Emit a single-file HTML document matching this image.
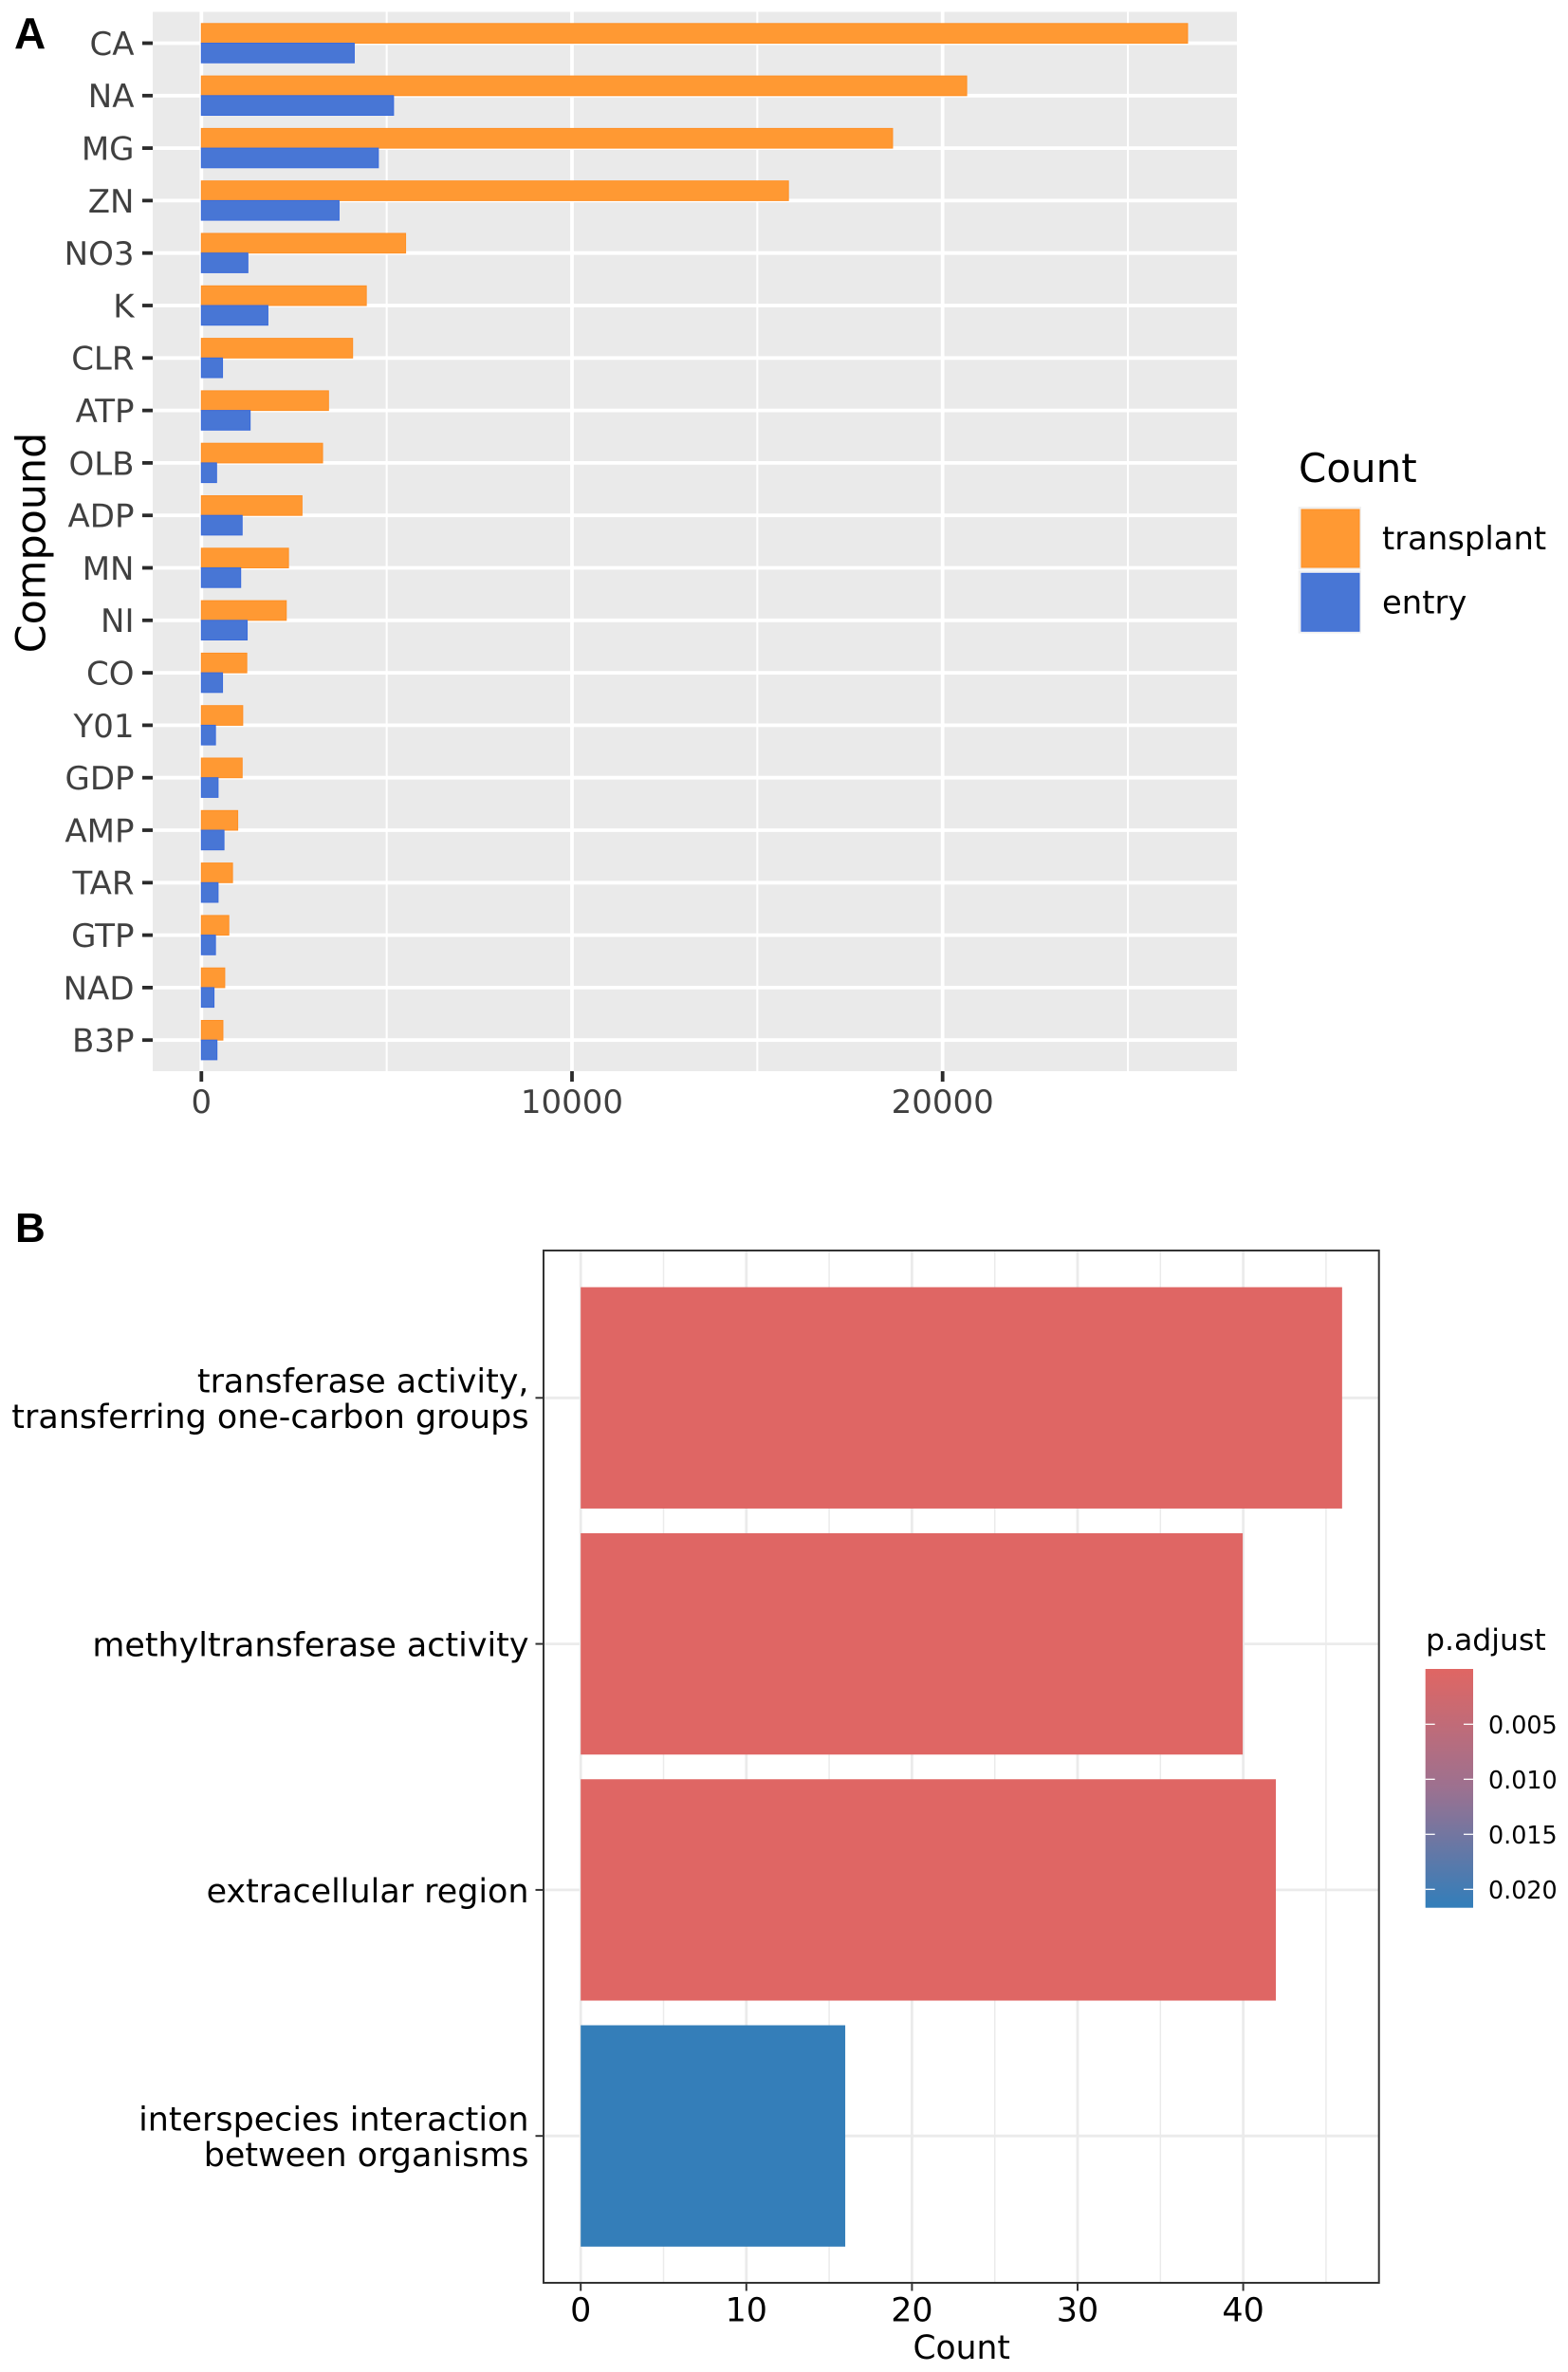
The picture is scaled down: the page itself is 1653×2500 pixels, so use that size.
<!DOCTYPE html>
<html lang="en">
<head>
<meta charset="utf-8">
<title>Compound counts and enrichment chart</title>
<style>
html,body{margin:0;padding:0;background:#fff;}
svg{display:block;font-family:"DejaVu Sans","Liberation Sans",sans-serif;}
</style>
</head>
<body>
<svg id="figure" xmlns="http://www.w3.org/2000/svg" width="1653" height="2500" viewBox="0 0 1653 2500">
  <defs>
    <linearGradient id="pGrad" x1="0" y1="0" x2="0" y2="1">
      <stop offset="0" stop-color="#e06663"/>
      <stop offset="0.5" stop-color="#9c7190"/>
      <stop offset="1" stop-color="#327eba"/>
    </linearGradient>
  </defs>
  <rect width="1653" height="2500" fill="#ffffff"/>
  <text x="15" y="51" font-family="'Liberation Sans',sans-serif" font-weight="700" font-size="46" fill="#000">A</text>
  <text x="16" y="1309" font-family="'Liberation Sans',sans-serif" font-weight="700" font-size="44" fill="#000">B</text>
  <g id="panelA"></g>
  <g id="panelB"></g>
</svg>
<script>
// Panel A data
const compounds = ["CA","NA","MG","ZN","NO3","K","CLR","ATP","OLB","ADP","MN","NI","CO","Y01","GDP","AMP","TAR","GTP","NAD","B3P"];
const transplantCounts = [26610,20650,18650,15840,5510,4450,4080,3430,3270,2715,2350,2290,1225,1115,1100,980,840,740,630,580];
const entryCounts = [4125,5185,4775,3715,1255,1795,570,1315,410,1100,1060,1235,570,380,450,610,450,380,340,420];
const countTicks = [0,10000,20000];
const countMinorTicks = [5000,15000,25000];
const countTickLabels = ["0","10000","20000"];
const legendLabels = ["transplant","entry"];

// Panel B data
const termLabels = [
  ["transferase activity,","transferring one-carbon groups"],
  ["methyltransferase activity"],
  ["extracellular region"],
  ["interspecies interaction","between organisms"]
];
const termCounts = [46,40,42,16];
const termPAdjust = [0.0002,0.0002,0.0002,0.0215];
const enrichTicks = [0,10,20,30,40];
const enrichMinorTicks = [5,15,25,35,45];
const enrichTickLabels = ["0","10","20","30","40"];
const pTicks = [0.005,0.010,0.015,0.020];
const pTickLabels = ["0.005","0.010","0.015","0.020"];

const NS = "http://www.w3.org/2000/svg";
function make(parent, tag, attrs, text) {
  const el = document.createElementNS(NS, tag);
  for (const k in attrs) el.setAttribute(k, attrs[k]);
  if (text !== undefined) el.textContent = text;
  parent.appendChild(el);
  return el;
}

// Axis functions
function xA(v) { return 212.3 + v * 0.03907; }
function yA(i) { return 45.5 + i * 55.3; }
const barH = 20.7;
function xB(v) { return 612.2 + v * 17.46; }
function yB(i) { return 1473.3 + i * 259.3; }
const barHB = 233.3;
function yP(p) { return 1817.3 + (p - 0.005) * 11600; }
function lerpColor(t) {
  const a = [224,102,99], b = [50,126,186], m = [156,113,144];
  const c = t < 0.5
    ? a.map((v, i) => v + (m[i] - v) * t * 2)
    : m.map((v, i) => v + (b[i] - v) * (t - 0.5) * 2);
  return "rgb(" + c.map(Math.round).join(",") + ")";
}
function pColor(p) {
  const t = Math.max(0, Math.min(1, (yP(p) - 1759) / (2010.7 - 1759)));
  return lerpColor(t);
}

// ---------- Panel A ----------
const A = document.getElementById("panelA");
const panelBg = make(A, "rect", {x:161, y:12.5, width:1143, height:1116.5, fill:"#eaeaea"});



countMinorTicks.forEach(function (v) {
  const g = make(A, "line", {x1:xA(v), x2:xA(v), y1:12.5, y2:1129, stroke:"#fff", "stroke-width":2});
  
  
});
countTicks.forEach(function (v) {
  const g = make(A, "line", {x1:xA(v), x2:xA(v), y1:12.5, y2:1129, stroke:"#fff", "stroke-width":3.8});
  
  
});
compounds.forEach(function (c, i) {
  const g = make(A, "line", {x1:161, x2:1304, y1:yA(i), y2:yA(i), stroke:"#fff", "stroke-width":3.8});
  
  
});
compounds.forEach(function (c, i) {
  const t = make(A, "rect", {x:xA(0), y:yA(i) - barH, width:xA(transplantCounts[i]) - xA(0), height:barH, fill:"#ff9933", stroke:"#ff8f24", "stroke-width":1});
  
  
  const e = make(A, "rect", {x:xA(0), y:yA(i), width:xA(entryCounts[i]) - xA(0), height:barH, fill:"#4876d5", stroke:"#3a6bdc", "stroke-width":1});
  
  
  const tk = make(A, "line", {x1:150, x2:161, y1:yA(i), y2:yA(i), stroke:"#2b2b2b", "stroke-width":3.8});
  
  
  const lb = make(A, "text", {x:141.5, y:yA(i) + 12.4, "text-anchor":"end", "font-size":34, fill:"#404040"}, c);
  
  
});
countTicks.forEach(function (v, i) {
  const tk = make(A, "line", {x1:xA(v), x2:xA(v), y1:1129, y2:1140, stroke:"#2b2b2b", "stroke-width":3.8});
  
  
  const lb = make(A, "text", {x:xA(v), y:1173, "text-anchor":"middle", "font-size":34, fill:"#404040"}, countTickLabels[i]);
  
  
});
const yTitle = make(A, "text", {transform:"translate(47.7,572) rotate(-90)", "text-anchor":"middle", "font-size":42.8, fill:"#000"}, "Compound");



const legTitle = make(A, "text", {x:1369, y:508, "font-size":42, fill:"#000"}, "Count");


legendLabels.forEach(function (name, i) {
  const top = 534 + i * 67.3;
  const bg = make(A, "rect", {x:1368.7, y:top, width:66.3, height:66.3, fill:"#f0f0f0"});
  
  
  const sw = make(A, "rect", {x:1372, y:top + 3, width:61, height:61, fill:i === 0 ? "#ff9933" : "#4876d5", stroke:i === 0 ? "#ff8f24" : "#3a6bdc", "stroke-width":1});
  
  
  const lb = make(A, "text", {x:1457, y:top + 45, "font-size":33.8, fill:"#000"}, name);
  
  
});

// ---------- Panel B ----------
const B = document.getElementById("panelB");
const frameBg = make(B, "rect", {x:573, y:1318, width:880.7, height:1088, fill:"#fff"});


enrichMinorTicks.forEach(function (v) {
  const g = make(B, "line", {x1:xB(v), x2:xB(v), y1:1318, y2:2406, stroke:"#ebebeb", "stroke-width":1.5});
  
  
});
enrichTicks.forEach(function (v) {
  const g = make(B, "line", {x1:xB(v), x2:xB(v), y1:1318, y2:2406, stroke:"#ebebeb", "stroke-width":2.8});
  
  
});
termLabels.forEach(function (lines, i) {
  const g = make(B, "line", {x1:573, x2:1453.7, y1:yB(i), y2:yB(i), stroke:"#ebebeb", "stroke-width":2.8});
  
  
});
termLabels.forEach(function (lines, i) {
  const b = make(B, "rect", {x:xB(0), y:yB(i) - barHB / 2, width:xB(termCounts[i]) - xB(0) - 0.5, height:barHB, fill:pColor(termPAdjust[i])});
  
  
  const tk = make(B, "line", {x1:564.5, x2:573, y1:yB(i), y2:yB(i), stroke:"#333", "stroke-width":2});
  
  
  const first = yB(i) + 13 - (lines.length - 1) * 18.8;
  lines.forEach(function (line, j) {
    const lb = make(B, "text", {x:557.5, y:first + j * 37.6, "text-anchor":"end", "font-size":34.9, fill:"#000"}, line);
    
    
  });
});
enrichTicks.forEach(function (v, i) {
  const tk = make(B, "line", {x1:xB(v), x2:xB(v), y1:2406, y2:2414.5, stroke:"#333", "stroke-width":2});
  
  
  const lb = make(B, "text", {x:xB(v), y:2446.7, "text-anchor":"middle", "font-size":34.9, fill:"#000"}, enrichTickLabels[i]);
  
  
});
const frame = make(B, "rect", {x:573, y:1318, width:880.7, height:1088, fill:"none", stroke:"#333", "stroke-width":2});


const xTitle = make(B, "text", {x:1013.7, y:2486, "text-anchor":"middle", "font-size":34.5, fill:"#000"}, "Count");



const cbTitle = make(B, "text", {x:1503, y:1739, "font-size":31.5, fill:"#000"}, "p.adjust");


const cb = make(B, "rect", {x:1502.7, y:1759, width:50.3, height:251.7, fill:"url(#pGrad)"});


pTicks.forEach(function (p, i) {
  const l = make(B, "line", {x1:1502.7, x2:1512.7, y1:yP(p), y2:yP(p), stroke:"#fff", "stroke-width":1.3});
  
  
  const r = make(B, "line", {x1:1543, x2:1553, y1:yP(p), y2:yP(p), stroke:"#fff", "stroke-width":1.3});
  
  
  const lb = make(B, "text", {x:1569, y:yP(p) + 9.5, "font-size":25.4, fill:"#000"}, pTickLabels[i]);
  
  
});
</script>
</body>
</html>
